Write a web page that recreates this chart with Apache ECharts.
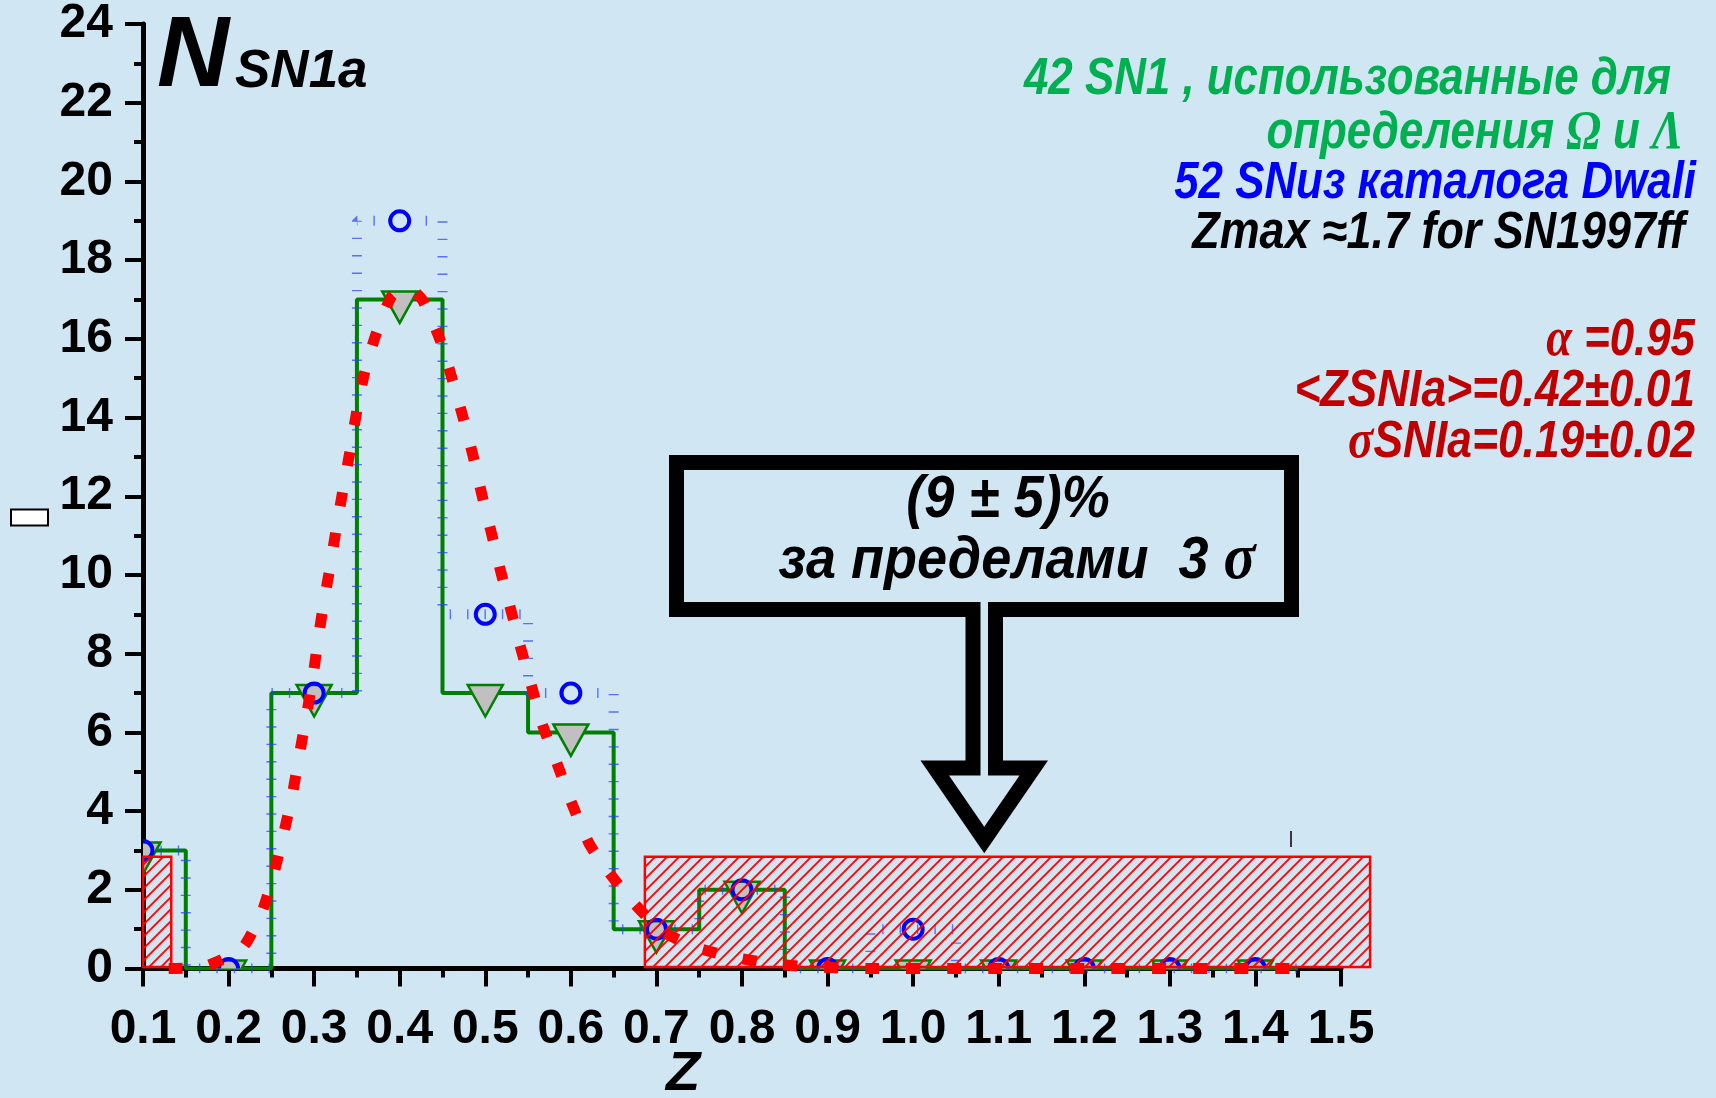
<!DOCTYPE html>
<html>
<head>
<meta charset="utf-8">
<script src="https://cdn.jsdelivr.net/npm/echarts@6/dist/echarts.min.js"></script>
<style>
  html, body { margin: 0; padding: 0; background: #d0e6f3; }
  #chart { width: 1716px; height: 1098px; }
</style>
</head>
<body>
<div id="chart"></div>
<script>
// bins of the histogram (centre of each 0.1 wide bin)
const binCenters = [0.1, 0.2, 0.3, 0.4, 0.5, 0.6, 0.7, 0.8, 0.9, 1.0, 1.1, 1.2, 1.3, 1.4];
const binWidth = 0.1;
// 42 SN used for Omega / Lambda (green steps, triangles)
const sn42Counts = [3, 0, 7, 17, 7, 6, 1, 2, 0, 0, 0, 0, 0, 0];
// 52 SN from the Dwali catalogue (blue dotted steps, circles)
const sn52Counts = [3, 0, 7, 19, 9, 7, 1, 2, 0, 1, 0, 0, 0, 0];

// fitted curve
const fitZ = [0.13, 0.172, 0.216, 0.239, 0.253, 0.264, 0.274, 0.282, 0.29, 0.298, 0.304, 0.311, 0.319,
  0.326, 0.334, 0.342, 0.35, 0.359, 0.372, 0.391, 0.41, 0.427, 0.447, 0.461, 0.474, 0.486, 0.496,
  0.507, 0.518, 0.53, 0.542, 0.555, 0.567, 0.584, 0.601, 0.621, 0.634, 0.667, 0.705, 0.744, 0.788,
  0.83, 0.873, 0.95, 1.1, 1.25, 1.45];
const fitN = [0, 0.05, 0.52, 1.44, 2.42, 3.39, 4.36, 5.34, 6.31, 7.32, 8.27, 9.26, 10.25,
  11.2, 12.2, 13.16, 14.18, 15.14, 16.1, 17.1, 17.3, 16.97, 15.98, 15.0, 14.0, 13.0, 12.04,
  11.08, 10.09, 9.1, 8.1, 7.1, 6.18, 5.2, 4.2, 3.19, 2.75, 1.82, 0.98, 0.55, 0.3,
  0.14, 0.05, 0, 0, 0, 0];

// hatched regions outside 3 sigma
const hatchFrom = [0.1, 0.6865];
const hatchTo = [0.133, 1.534];
const hatchBottom = [0.04, 0.04];
const hatchTop = [2.84, 2.84];

const xMin = 0.1, xMax = 1.5, xStep = 0.1;
const yMin = 0, yMax = 24, yStep = 2;

const BG = '#d0e6f3';
const TXT = "'Liberation Sans', Arial, sans-serif";
const SERIF = "'Liberation Serif', 'Times New Roman', serif";

function stepPoints(counts) {
  const pts = [];
  binCenters.forEach((c, i) => {
    pts.push([Math.max(c - binWidth / 2, xMin), counts[i]]);
    pts.push([c + binWidth / 2, counts[i]]);
  });
  return pts;
}

function hatchPattern() {
  const s = 12;
  const c = document.createElement('canvas');
  c.width = s; c.height = s;
  const ctx = c.getContext('2d');
  ctx.strokeStyle = '#ff0000';
  ctx.lineWidth = 1.8;
  ctx.beginPath();
  ctx.moveTo(-2, s + 2); ctx.lineTo(s + 2, -2);
  ctx.moveTo(-2, 2); ctx.lineTo(2, -2);
  ctx.moveTo(s - 2, s + 2); ctx.lineTo(s + 2, s - 2);
  ctx.stroke();
  return c;
}
const pattern = hatchPattern();

const chart = echarts.init(document.getElementById('chart'));

const axisFont = { color: '#000', fontSize: 48, fontWeight: 'bold', fontFamily: TXT };

// right-aligned annotation lines
function note(text, right, y, color, rich, sx) {
  return {
    type: 'text', x: right, y: y, scaleX: sx || 0.86, z: 20,
    style: {
      text: text, align: 'right', verticalAlign: 'middle',
      fill: color, font: 'italic bold 51px ' + TXT,
      rich: rich
    }
  };
}
function greek(color) {
  return { g: { fontFamily: SERIF, fontStyle: 'italic', fontWeight: 'bold', fontSize: 54, color: color },
           t: { fontFamily: TXT, fontStyle: 'italic', fontWeight: 'bold', fontSize: 51, color: color } };
}

const option = {
  backgroundColor: BG,
  animation: false,
  grid: { left: 143, right: 375, top: 24, bottom: 129.5, outerBoundsMode: 'none', containLabel: false },
  xAxis: {
    type: 'value', min: xMin, max: xMax, interval: xStep,
    axisLine: { onZero: false, lineStyle: { color: '#000', width: 5 } },
    axisTick: { length: 18, lineStyle: { color: '#000', width: 4 } },
    minorTick: { show: true, splitNumber: 2, length: 9, lineStyle: { color: '#000', width: 4 } },
    splitLine: { show: false },
    axisLabel: Object.assign({ margin: 37, formatter: v => v.toFixed(1) }, axisFont)
  },
  yAxis: {
    type: 'value', min: yMin, max: yMax, interval: yStep,
    axisLine: { show: true, onZero: false, lineStyle: { color: '#000', width: 5 } },
    axisTick: { show: true, length: 18, lineStyle: { color: '#000', width: 4 } },
    minorTick: { show: true, splitNumber: 2, length: 9, lineStyle: { color: '#000', width: 4 } },
    splitLine: { show: false },
    axisLabel: Object.assign({ margin: 30 }, axisFont)
  },
  series: [
    {
      name: '42 SN', type: 'line', z: 2, showSymbol: false, clip: true,
      data: stepPoints(sn42Counts),
      lineStyle: { color: '#008000', width: 4 }
    },
    {
      name: '52 SN steps', type: 'line', z: 2, showSymbol: false, clip: true,
      data: stepPoints(sn52Counts),
      lineStyle: { color: 'rgba(40,60,255,0.7)', width: 10, type: [1.4, 16], cap: 'butt' }
    },
    {
      name: '42 SN points', type: 'custom', z: 3, clip: true,
      data: binCenters.map((c, i) => [c, sn42Counts[i]]),
      renderItem: (params, api) => {
        const p = api.coord([api.value(0), api.value(1)]);
        return {
          type: 'polygon',
          shape: { points: [[p[0] - 17.5, p[1] - 8], [p[0] + 17.5, p[1] - 8], [p[0], p[1] + 23.5]] },
          style: { fill: '#c0c0c0', stroke: '#008000', lineWidth: 2.5 }
        };
      }
    },
    {
      name: '52 SN points', type: 'custom', z: 4, clip: true,
      data: binCenters.map((c, i) => [c, sn52Counts[i]]),
      renderItem: (params, api) => {
        const p = api.coord([api.value(0), api.value(1)]);
        return {
          type: 'circle',
          shape: { cx: p[0], cy: p[1], r: 9.5 },
          style: { fill: 'none', stroke: '#0000ff', lineWidth: 4 }
        };
      }
    },
    {
      name: 'fit', type: 'line', z: 5, showSymbol: false, clip: true, smooth: 0.2,
      data: fitZ.map((z, i) => [z, fitN[i]]),
      lineStyle: { color: '#ff0000', width: 11, type: [14, 27], cap: 'butt' }
    },
    {
      name: 'outside 3 sigma', type: 'custom', z: 6, clip: false,
      encode: { x: [0, 1], y: [2, 3] },
      data: hatchFrom.map((x0, i) => [x0, hatchTo[i], hatchBottom[i], hatchTop[i]]),
      renderItem: (params, api) => {
        const p0 = api.coord([api.value(0), api.value(3)]);
        const p1 = api.coord([api.value(1), api.value(2)]);
        return {
          type: 'rect',
          shape: { x: p0[0], y: p0[1], width: p1[0] - p0[0], height: p1[1] - p0[1] },
          style: { fill: { image: pattern, repeat: 'repeat' }, stroke: '#ff0000', lineWidth: 2.5 }
        };
      }
    }
  ],
  graphic: [
    // y axis name (an empty box in the original)
    { type: 'rect', shape: { x: 11, y: 509.5, width: 37, height: 16 },
      style: { fill: '#ffffff', stroke: '#000', lineWidth: 2 } },
    { type: 'text', x: 157, y: 58, style: { text: 'N', align: 'left', verticalAlign: 'middle',
      fill: '#000', font: 'italic bold 100px ' + TXT } },
    { type: 'text', x: 235, y: 72, style: { text: 'SN1a', align: 'left', verticalAlign: 'middle',
      fill: '#000', font: 'italic bold 53px ' + TXT } },
    note('42 SN1 , использованные для', 1671, 80, '#00b050'),
    note('{t|определения }{g|Ω}{t| и }{g|Λ}', 1683, 134, '#00b050', greek('#00b050')),
    note('52 SNиз каталога Dwali', 1696, 184, '#0000ff'),
    note('Zmax ≈1.7 for SN1997ff', 1685, 234, '#000000', null, 0.88),
    note('{g|α}{t| =0.95}', 1695, 341, '#c00000', greek('#c00000')),
    note('<ZSNIa>=0.42±0.01', 1695, 392, '#c00000', null, 0.87),
    note('{g|σ}{t|SNIa=0.19±0.02}', 1695, 443, '#c00000', greek('#c00000'), 0.87),
    // callout box with arrow
    { type: 'rect', z: 20, shape: { x: 676.5, y: 462.5, width: 615, height: 147 },
      style: { fill: 'none', stroke: '#000', lineWidth: 15 } },
    { type: 'polyline', z: 21,
      shape: { points: [[973, 602], [973, 768], [934.75, 768], [984.25, 840], [1033.75, 768], [995.5, 768], [995.5, 602]] },
      style: { fill: BG, stroke: '#000', lineWidth: 15, lineJoin: 'miter', miterLimit: 10 } },
    { type: 'text', x: 1008, y: 500, scaleX: 0.9, z: 22, style: { text: '(9 ± 5)%', align: 'center',
      verticalAlign: 'middle', fill: '#000', font: 'italic bold 60px ' + TXT } },
    { type: 'text', x: 1017, y: 561, scaleX: 0.9, z: 22, style: {
      text: '{t|за пределами  3 }{g|σ}', align: 'center', verticalAlign: 'middle', fill: '#000',
      rich: { t: { fontFamily: TXT, fontStyle: 'italic', fontWeight: 'bold', fontSize: 60, color: '#000' },
              g: { fontFamily: SERIF, fontStyle: 'italic', fontWeight: 'bold', fontSize: 66, color: '#000' } } } },
    { type: 'line', shape: { x1: 1291, y1: 831, x2: 1291, y2: 847 }, style: { stroke: '#000', lineWidth: 1.5 } },
    // x axis name
    { type: 'text', x: 683, y: 1075, style: { text: 'Z', align: 'center', verticalAlign: 'middle',
      fill: '#000', font: 'italic bold 56px ' + TXT } }
  ]
};

chart.setOption(option);
</script>
</body>
</html>
